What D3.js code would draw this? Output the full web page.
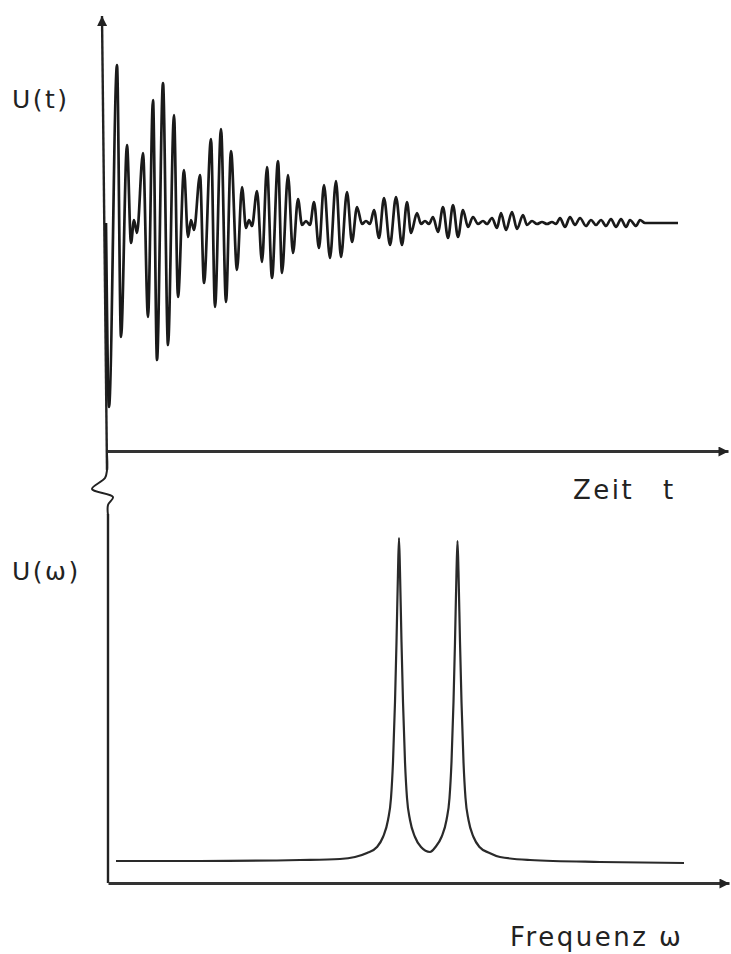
<!DOCTYPE html>
<html>
<head>
<meta charset="utf-8">
<script src="https://cdn.jsdelivr.net/npm/d3@7"></script>
<style>
  html, body { margin: 0; padding: 0; background: #fff; }
  svg { display: block; }
  text { font-family: "DejaVu Sans", sans-serif; fill: #222; }
</style>
</head>
<body>
<svg id="chart" width="731" height="954"></svg>
<script>
// ---- Time signal U(t): successive extrema (arbitrary units) ----
const sigT = [0, 3, 11, 15, 21, 25, 28, 31, 37, 42, 47, 51, 57, 62, 68, 72, 78, 82, 85, 88,
  94, 98, 105, 109, 115, 120, 125, 131, 136, 140, 143, 146, 151, 156, 161, 166, 172, 176, 182, 187,
  192, 196, 200, 204, 208, 213, 218, 224, 230, 235, 241, 246, 251, 256, 260, 264, 268, 273, 278, 284,
  290, 296, 301, 305, 311, 315, 319, 323, 327, 332, 337, 342, 347, 352, 357, 362, 367, 372, 377, 381,
  386, 391, 395, 400, 406, 411, 417, 421, 426, 431, 436, 441, 446, 450, 454, 459, 464, 469, 474, 480,
  485, 490, 495, 500, 505, 510, 515, 520, 524, 530, 534, 539, 572];
const sigU = [0, -184, 158, -114, 78, -20, 3, -10, 70, -94, 123, -137, 140, -122, 108, -74, 53, -14, 3, -7,
  48, -60, 84, -84, 94, -79, 72, -47, 36, -5, 3, -3, 32, -39, 56, -55, 62, -50, 48, -30,
  24, -2, 2, -2, 21, -25, 38, -35, 42, -34, 31, -19, 16, -1, 2, -1, 13, -15, 25, -22,
  26, -22, 21, -10, 10, -1, 2, -1, 6, -9, 16, -15, 18, -14, 13, -4, 6, -1, 2, -1,
  5, -5, 10, -7, 11, -6, 8, -2, 2, -1, 1, -1, 1, -1, 5, -4, 6, -2, 5, -3,
  3, -2, 3, -3, 4, -4, 4, -4, 3, -3, 3, 0, 0];

// ---- Spectrum U(ω): points (arbitrary units) ----
const specF = [8, 92, 192, 232, 247, 259, 269, 275, 280, 283, 285, 287, 288.5, 290, 291,
  292, 293.5, 295, 297, 299, 302, 307, 313, 322,
  327.5, 333.5, 338.5, 341.5, 343.5, 345.5, 347, 348.5, 349.5,
  350.5, 352, 353.5, 355.5, 357.5, 360.5, 365.5, 371.5, 381.5, 392, 422, 492, 576];
const specA = [1, 1, 2, 3, 5, 9, 15, 25, 42, 64, 100, 160, 220, 290, 324,
  290, 220, 160, 100, 64, 42, 25, 15, 10,
  15, 25, 42, 64, 100, 160, 220, 290, 321,
  290, 220, 160, 100, 64, 42, 25, 15, 9, 5, 2, 0, -1];

// ---- Labels ----
const labelTop = "U(t)";
const labelTopX = ["Zeit", "t"];
const labelBottom = "U(ω)";
const labelBottomX = "Frequenz ω";

const svg = d3.select("#chart");
const ink = "#222";

// scales
const xT = d3.scaleLinear().domain([0, 620]).range([106, 726]);
const yT = d3.scaleLinear().domain([-230, 210]).range([453, 13]);
const xF = d3.scaleLinear().domain([0, 620]).range([108, 728]);
const yF = d3.scaleLinear().domain([0, 330]).range([862, 532]);

// arrow marker
const defs = svg.append("defs");
defs.append("marker").attr("id", "arrow")
  .attr("viewBox", "0 0 10 10").attr("refX", 10).attr("refY", 5)
  .attr("markerWidth", 12).attr("markerHeight", 10).attr("markerUnits", "userSpaceOnUse")
  .attr("orient", "auto")
  .append("path").attr("d", "M0,0 L10,5 L0,10 Z").attr("fill", ink);

// ---- vertical axis (top panel with arrow, break, bottom panel) ----
const vLine = d3.line().curve(d3.curveCatmullRom);
svg.append("path")
  .attr("d", d3.line()([[107, 470], [102, 16]]))
  .attr("stroke", ink).attr("stroke-width", 2.4).attr("fill", "none")
  .attr("marker-end", "url(#arrow)");
svg.append("path")
  .attr("d", vLine([[107, 455], [107, 470], [105, 478], [92, 489], [113, 497], [108, 505], [108, 515]]))
  .attr("stroke", ink).attr("stroke-width", 2).attr("fill", "none");
svg.append("path")
  .attr("d", d3.line()([[108, 514], [108, 883]]))
  .attr("stroke", ink).attr("stroke-width", 2.4).attr("fill", "none");

// ---- horizontal axes via d3 axes ----
const axT = d3.axisBottom(d3.scaleLinear().domain([0, 1]).range([107, 728])).tickValues([]).tickSizeOuter(0);
const gT = svg.append("g").attr("transform", "translate(0,451)").call(axT);
gT.select(".domain").attr("stroke", "#333").attr("stroke-width", 2.8).attr("marker-end", "url(#arrow)");

const axF = d3.axisBottom(d3.scaleLinear().domain([0, 1]).range([108, 729])).tickValues([]).tickSizeOuter(0);
const gF = svg.append("g").attr("transform", "translate(0,883)").call(axF);
gF.select(".domain").attr("stroke", "#333").attr("stroke-width", 2.8).attr("marker-end", "url(#arrow)");

// ---- time signal ----
const sig = sigT.map((t, i) => [t, sigU[i]]);
svg.append("path")
  .datum(sig)
  .attr("d", d3.line().x(d => xT(d[0])).y(d => yT(d[1])).curve(d3.curveMonotoneX))
  .attr("fill", "none").attr("stroke", "#1a1a1a").attr("stroke-width", 2.7)
  .attr("stroke-linejoin", "round");

// ---- spectrum ----
const spec = specF.map((f, i) => [f, specA[i]]);
svg.append("path")
  .datum(spec)
  .attr("d", d3.line().x(d => xF(d[0])).y(d => yF(d[1])).curve(d3.curveMonotoneX))
  .attr("fill", "none").attr("stroke", "#2a2a2a").attr("stroke-width", 2.2)
  .attr("stroke-linejoin", "round");

// ---- labels ----
svg.append("text").attr("x", 12).attr("y", 108).attr("font-size", 25).attr("letter-spacing", 2.5).text(labelTop);
svg.append("text").attr("x", 12).attr("y", 580).attr("font-size", 25).attr("letter-spacing", 2.5).text(labelBottom);
svg.append("text").attr("x", 573).attr("y", 499).attr("font-size", 26).attr("letter-spacing", 2.5).text(labelTopX[0]);
svg.append("text").attr("x", 663).attr("y", 499).attr("font-size", 26).text(labelTopX[1]);
svg.append("text").attr("x", 510).attr("y", 946).attr("font-size", 26).attr("letter-spacing", 2.5).text(labelBottomX);
</script>
</body>
</html>
